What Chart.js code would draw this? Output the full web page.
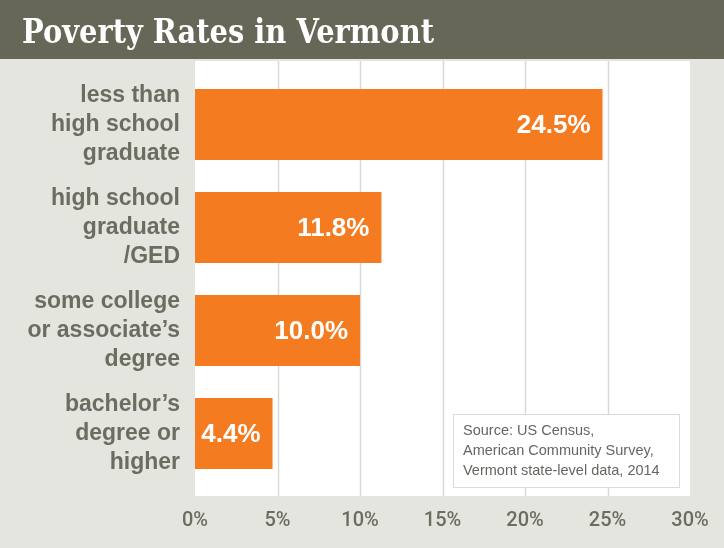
<!DOCTYPE html>
<html>
<head>
<meta charset="utf-8">
<script src="https://cdn.jsdelivr.net/npm/chart.js@4.4.1/dist/chart.umd.min.js"></script>
<style>
  html, body { margin: 0; padding: 0; background: #e5e5e0; }
  #wrap { width: 724px; height: 548px; }
</style>
</head>
<body>
<div id="wrap"><canvas id="chart" width="724" height="548"></canvas></div>
<script>
const chartTitle = 'Poverty Rates in Vermont';
const categories = [
  ['less than', 'high school', 'graduate'],
  ['high school', 'graduate', '/GED'],
  ['some college', 'or associate’s', 'degree'],
  ['bachelor’s', 'degree or', 'higher'],
];
// bar lengths as drawn in the picture, and the labels printed on them
const barValues = [24.7, 11.3, 10.0, 4.7];
const valueLabels = ['24.5%', '11.8%', '10.0%', '4.4%'];
const xTicks = [0, 5, 10, 15, 20, 25, 30];
const sourceLines = ['Source: US Census,', 'American Community Survey,', 'Vermont state-level data, 2014'];

const BG = '#e5e5e0';
const HEADER = '#676758';
const ORANGE = '#f47b20';
const GRID = '#d9d9d3';
const LABEL = '#6c6c60';

const decorPlugin = {
  id: 'decor',
  beforeDraw(chart) {
    const { ctx, chartArea } = chart;
    const x = chart.scales.x;
    ctx.save();
    ctx.fillStyle = BG;
    ctx.fillRect(0, 0, chart.width, chart.height);
    ctx.fillStyle = HEADER;
    ctx.fillRect(0, 0, chart.width, 59);
    ctx.fillStyle = '#ffffff';
    ctx.fillRect(chartArea.left, 61, chartArea.right - chartArea.left, 496 - 61);

    ctx.strokeStyle = GRID;
    ctx.lineWidth = 1.5;
    xTicks.slice(1, -1).forEach(v => {
      const px = Math.round(x.getPixelForValue(v)) + 0.5;
      ctx.beginPath();
      ctx.moveTo(px, 61);
      ctx.lineTo(px, 496);
      ctx.stroke();
    });

    ctx.fillStyle = '#ffffff';
    ctx.font = 'bold 33px "DejaVu Serif"';
    ctx.textBaseline = 'alphabetic';
    const w = ctx.measureText(chartTitle).width;
    ctx.translate(22, 43);
    ctx.scale(412 / w, 1);
    ctx.fillText(chartTitle, 0, 0);
    ctx.restore();
  },
  afterDatasetsDraw(chart) {
    const { ctx } = chart;
    const meta = chart.getDatasetMeta(0);
    ctx.save();
    ctx.fillStyle = '#ffffff';
    ctx.font = 'bold 26px "Liberation Sans"';
    ctx.textAlign = 'right';
    ctx.textBaseline = 'middle';
    meta.data.forEach((bar, i) => {
      ctx.fillText(valueLabels[i], bar.x - 12, bar.y + 1);
    });
    ctx.restore();
  },
  afterDraw(chart) {
    const { ctx } = chart;
    ctx.save();
    ctx.fillStyle = '#ffffff';
    ctx.fillRect(453, 414, 226, 73);
    ctx.strokeStyle = '#dcdcd6';
    ctx.lineWidth = 1;
    ctx.strokeRect(453.5, 414.5, 226, 73);
    ctx.fillStyle = '#666660';
    ctx.font = '14.5px "Liberation Sans"';
    ctx.textBaseline = 'middle';
    sourceLines.forEach((line, i) => ctx.fillText(line, 463, 431 + i * 20));
    ctx.restore();
  },
};

new Chart(document.getElementById('chart'), {
  type: 'bar',
  data: {
    labels: categories,
    datasets: [{
      data: barValues,
      backgroundColor: ORANGE,
      borderWidth: 0,
      barPercentage: 0.69,
      categoryPercentage: 1,
    }],
  },
  options: {
    indexAxis: 'y',
    responsive: false,
    animation: false,
    layout: { padding: { top: 73, right: 34, bottom: 0, left: 0 } },
    plugins: {
      legend: { display: false },
      tooltip: { enabled: false },
    },
    scales: {
      x: {
        min: 0,
        max: 30,
        afterFit(scale) {
          scale.height = 63;
          scale.paddingLeft = 0;
          scale.paddingRight = 0;
        },
        grid: { display: false, drawTicks: false },
        border: { display: false },
        ticks: {
          stepSize: 5,
          padding: 24,
          color: LABEL,
          font: { family: 'Roboto', size: 20, weight: '500' },
          callback: v => v + '%',
        },
      },
      y: {
        afterFit(scale) { scale.width = 195; },
        grid: { display: false, drawTicks: false },
        border: { display: false },
        ticks: {
          padding: 15,
          color: LABEL,
          font: { family: 'Liberation Sans', size: 23, weight: 'bold', lineHeight: 1.26 },
        },
      },
    },
  },
  plugins: [decorPlugin],
});
</script>
</body>
</html>
